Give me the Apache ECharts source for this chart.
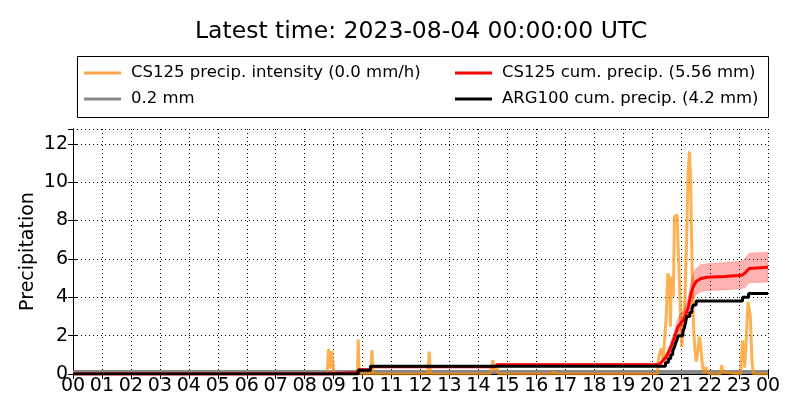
<!DOCTYPE html>
<html>
<head>
<meta charset="utf-8">
<script src="https://cdn.jsdelivr.net/npm/echarts@6/dist/echarts.min.js"></script>
<style>html,body{margin:0;padding:0;background:#fff}#c{width:800px;height:420px}</style>
</head>
<body>
<div id="c"></div>
<script>
// ---- data (hours since 00 UTC, values in mm or mm/h) ----
const hourLabels = ['00','01','02','03','04','05','06','07','08','09','10','11','12','13','14','15','16','17','18','19','20','21','22','23','00'];

const intenHours = [0,8.78,8.82,8.86,8.9,8.93,8.97,9.02,9.82,9.85,9.88,10.28,10.32,10.36,11.25,11.3,11.35,12.25,12.3,12.34,14.4,14.45,14.5,14.55,14.6,14.65,14.7,16.55,16.6,16.65,
  20.18,20.21,20.26,20.32,20.38,20.43,20.49,20.54,20.6,20.63,20.67,20.73,20.77,20.86,20.92,20.95,20.99,21.02,21.08,21.13,21.19,21.24,21.29,21.33,21.35,21.39,21.43,21.47,21.52,21.57,21.63,21.68,21.74,21.79,21.85,21.92,22.0,22.35,22.4,22.45,22.5,23.05,23.12,23.2,23.31,23.39,23.45,23.5,24];
const intenValues = [0,0,1.3,1.4,0.3,1.2,1.25,0,0,1.8,0,0,1.25,0,0,0.1,0,0,1.17,0,0,0.3,0.72,0.2,0.1,0.35,0,0,0.15,0,
  0,0.73,1.08,1.34,0.73,1.77,3.16,5.25,4.9,2.47,5.08,4.03,8.2,8.3,8.2,4.38,2.47,1.42,2.47,3.86,6.99,10.47,11.6,10.12,7.86,4.9,2.47,1.42,0.64,1.08,1.95,1.42,0.38,0.05,0.35,0.1,0,0,0.45,0.1,0,0,1.74,0.33,3.77,2.99,0.57,0,0];

const thresholdHours = [0,24];
const thresholdValues = [0.1,0.1];

const cs125Hours = [0,8.85,8.9,9.83,9.87,10.25,10.3,14.55,14.65,20.25,20.38,20.49,20.6,20.67,20.78,20.89,21.0,21.08,21.16,21.25,21.34,21.42,21.52,21.68,21.91,22.5,23.1,23.2,23.35,24];
const cs125Cum   = [0,0,0.08,0.08,0.22,0.22,0.38,0.38,0.48,0.5,0.72,0.9,1.25,1.5,1.95,2.45,2.68,2.82,3.08,3.5,4.2,4.56,4.82,4.98,5.04,5.08,5.15,5.25,5.5,5.56];
const cs125Upper = [0,0,0.09,0.09,0.25,0.25,0.43,0.43,0.55,0.57,0.85,1.1,1.5,1.8,2.3,2.9,3.2,3.3,3.6,4.0,4.8,5.2,5.5,5.7,5.75,5.8,5.9,6.0,6.3,6.35];
const cs125Lower = [0,0,0.07,0.07,0.19,0.19,0.33,0.33,0.41,0.43,0.6,0.7,1.0,1.2,1.6,2.0,2.2,2.35,2.6,3.0,3.6,3.9,4.15,4.3,4.35,4.38,4.45,4.5,4.75,4.8];

const argHours = [0,9.85,10.27,20.46,20.56,20.64,20.71,20.77,20.81,20.86,20.9,21.06,21.11,21.14,21.17,21.2,21.3,21.37,21.42,21.52,23.12,23.33,24];
const argCum   = [0,0.2,0.4,0.6,0.8,1.0,1.2,1.4,1.6,1.8,2.0,2.2,2.4,2.6,2.8,3.0,3.2,3.4,3.6,3.8,4.0,4.2,4.2];

const seriesNames = ['CS125 precip. intensity (0.0 mm/h)','0.2 mm','CS125 cum. precip. (5.56 mm)','ARG100 cum. precip. (4.2 mm)'];
const titleText = 'Latest time: 2023-08-04 00:00:00 UTC';
const yName = 'Precipitation';

// ---- chart ----
const zip = (a,b) => a.map((x,i) => [x,b[i]]);
const FONT = 'DejaVu Sans';
const chart = echarts.init(document.getElementById('c'), null, {renderer:'canvas'});
const G = {left:73, right:32, top:129, bottom:46};
const legendText = {fontSize:16.5, fontFamily:FONT, color:'#000', lineHeight:20, padding:[0,0,0,5]};

chart.setOption({
  animation:false,
  backgroundColor:'#fff',
  title:{text:titleText, left:195, top:20, padding:0, textStyle:{fontFamily:FONT, fontSize:23.5, fontWeight:'normal', color:'#000'}},
  grid:G,
  legend:[
    {data:[seriesNames[0],seriesNames[1]], orient:'vertical', left:79, top:58, icon:'rect', itemWidth:37, itemHeight:3, itemGap:6, textStyle:legendText, selectedMode:false},
    {data:[seriesNames[2],seriesNames[3]], orient:'vertical', left:450, top:58, icon:'rect', itemWidth:37, itemHeight:3, itemGap:6, textStyle:legendText, selectedMode:false}
  ],
  graphic:[{type:'rect', shape:{x:77.5,y:56.5,width:691,height:61}, style:{fill:'none', stroke:'#000', lineWidth:1}, silent:true}],
  xAxis:[
    {type:'value', min:0, max:24, interval:1, position:'bottom',
      axisLine:{lineStyle:{color:'#000', width:1}},
      axisTick:{inside:true, length:5, lineStyle:{color:'#000'}},
      axisLabel:{formatter:v => hourLabels[Math.round(v)], fontFamily:FONT, fontSize:19, color:'#000', margin:3},
      splitLine:{show:true, lineStyle:{color:'#000', type:[1,3], width:1}}},
    {type:'value', min:0, max:24, interval:1, position:'top',
      axisLine:{lineStyle:{color:'#000', width:1}},
      axisTick:{inside:true, length:5, lineStyle:{color:'#000'}},
      axisLabel:{show:false}, splitLine:{show:false}}
  ],
  yAxis:[
    {type:'value', min:0, max:12.77, interval:2, name:yName, nameLocation:'middle', nameGap:35, nameMoveOverlap:false,
      nameTextStyle:{fontFamily:FONT, fontSize:19, color:'#000'},
      axisLine:{show:true, lineStyle:{color:'#000', width:1}},
      axisTick:{show:true, inside:true, length:5, lineStyle:{color:'#000'}},
      axisLabel:{fontFamily:FONT, fontSize:19, color:'#000', margin:5, showMaxLabel:false},
      splitLine:{show:true, lineStyle:{color:'#000', type:[1,3], width:1}}},
    {type:'value', min:0, max:12.77, interval:2, position:'right',
      axisLine:{show:true, lineStyle:{color:'#000', width:1}},
      axisTick:{show:true, inside:true, length:5, lineStyle:{color:'#000'}},
      axisLabel:{show:false}, splitLine:{show:false}}
  ],
  series:[
    {name:seriesNames[1], type:'line', data:zip(thresholdHours,thresholdValues), showSymbol:false, color:'#888888', lineStyle:{width:4, color:'#888888'}, z:1},
    {name:seriesNames[0], type:'line', data:zip(intenHours,intenValues), showSymbol:false, color:'#ffa64d', lineStyle:{width:3, color:'rgba(255,140,0,0.68)'}, z:2},
    {type:'custom', silent:true, z:3, data:[[0,0]], clip:true,
      renderItem:(params, api) => {
        const pts = [];
        for (let i=0;i<cs125Hours.length;i++) pts.push(api.coord([cs125Hours[i], cs125Upper[i]]));
        for (let i=cs125Hours.length-1;i>=0;i--) pts.push(api.coord([cs125Hours[i], cs125Lower[i]]));
        return {type:'polygon', shape:{points:pts}, style:{fill:'rgba(255,0,0,0.3)', stroke:'rgba(255,0,0,0.2)', lineWidth:1}};
      }},
    {name:seriesNames[2], type:'line', data:zip(cs125Hours,cs125Cum), showSymbol:false, color:'#ff0000', lineStyle:{width:3, color:'#ff0000'}, z:4},
    {name:seriesNames[3], type:'line', step:'end', data:zip(argHours,argCum), showSymbol:false, color:'#000000', lineStyle:{width:3, color:'#000000'}, z:5}
  ]
});
</script>
</body>
</html>
